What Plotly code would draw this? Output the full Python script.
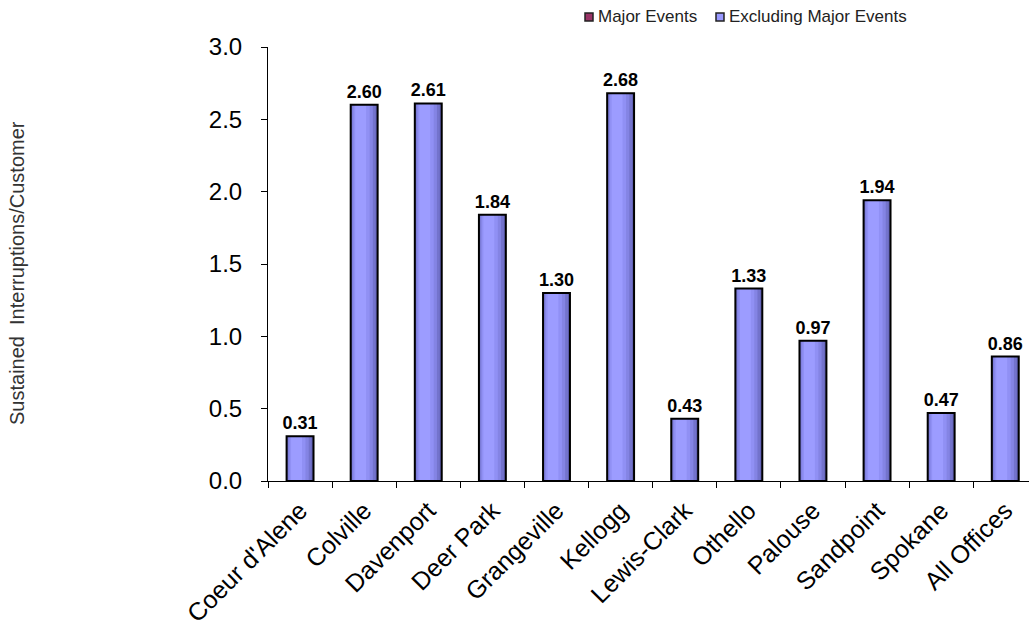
import plotly.graph_objects as go

offices = ["Coeur d'Alene", "Colville", "Davenport", "Deer Park", "Grangeville",
           "Kellogg", "Lewis-Clark", "Othello", "Palouse", "Sandpoint",
           "Spokane", "All Offices"]
major_events = [0, 0, 0, 0, 0, 0, 0, 0, 0, 0, 0, 0]
excluding_major = [0.31, 2.60, 2.61, 1.84, 1.30, 2.68, 0.43, 1.33, 0.97, 1.94, 0.47, 0.86]
y_ticks = [0.0, 0.5, 1.0, 1.5, 2.0, 2.5, 3.0]

FONT = "Arial, Liberation Sans, sans-serif"
BAR_W = 0.42
MAJOR_COLOR = "#993366"
EXCL_COLOR = "#9999FF"

# plot-area geometry (pixels) used for the hand-drawn legend
L, T, W, H = 268, 47, 761, 434


def px_x(px):
    return (px - L) / W


def px_y(py):
    return (T + H - py) / H


fig = go.Figure()

# Major events component (zero for every office)
fig.add_trace(go.Bar(
    x=offices, y=major_events, name="Major Events",
    marker=dict(color=MAJOR_COLOR, line=dict(width=0)),
    width=BAR_W, offset=-BAR_W / 2, showlegend=False,
))

# shaded "cylinder" fill: dark outer band, lighter inner bands shifted left
shades = [
    (BAR_W, -BAR_W / 2, "#5E5EAE"),
    (0.38, -0.20, "#7373CC"),
    (0.32, -0.185, "#8484E4"),
    (0.25, -0.165, "#9090F4"),
    (0.17, -0.14, "#9C9CFF"),
]
for w, off, col in shades:
    fig.add_trace(go.Bar(
        x=offices, y=excluding_major, name="Excluding Major Events",
        marker=dict(color=col, line=dict(width=0)),
        width=w, offset=off, showlegend=False, hoverinfo="skip",
    ))

# outline and value labels
fig.add_trace(go.Bar(
    x=offices, y=excluding_major, name="Excluding Major Events",
    marker=dict(color="rgba(0,0,0,0)", line=dict(color="black", width=2)),
    width=BAR_W, offset=-BAR_W / 2, showlegend=False,
    texttemplate="%{y:.2f}", textposition="outside", constraintext="none",
    textfont=dict(family=FONT, size=18, color="black", weight="bold"),
    cliponaxis=False,
))

# legend: small bordered squares with labels
legend_items = [("Major Events", MAJOR_COLOR, 585), ("Excluding Major Events", EXCL_COLOR, 716)]
shapes = []
annotations = []
for label, col, x0 in legend_items:
    shapes.append(dict(
        type="rect", xref="paper", yref="paper",
        x0=px_x(x0), x1=px_x(x0 + 8), y0=px_y(21), y1=px_y(13),
        fillcolor=col, line=dict(color="#222", width=1.5),
    ))
    annotations.append(dict(
        text=label, xref="paper", yref="paper",
        x=px_x(x0 + 11), y=px_y(17), xanchor="left", yanchor="middle",
        showarrow=False, font=dict(family=FONT, size=17, color="#222"),
    ))

annotations.append(dict(
    text="Sustained  Interruptions/Customer", textangle=-90,
    xref="paper", yref="paper", x=px_x(17), y=px_y(273),
    xanchor="center", yanchor="middle", showarrow=False,
    font=dict(family=FONT, size=20, color="#333"),
))

fig.update_layout(
    width=1029, height=628,
    margin=dict(l=L, r=1029 - L - W, t=T, b=628 - T - H),
    paper_bgcolor="white", plot_bgcolor="white",
    barmode="overlay",
    font=dict(family=FONT, color="black"),
    showlegend=False,
    xaxis=dict(
        range=[-0.5, 11.37], showline=True, linecolor="black", linewidth=1,
        ticks="outside", ticklen=6, tickcolor="black",
        tickangle=-45, tickfont=dict(family=FONT, size=25, color="black"),
        ticklabelstandoff=4,
        showgrid=False, tickson="boundaries",
    ),
    yaxis=dict(
        range=[0, 3], tickvals=y_ticks, ticktext=[f"{v:.1f}" for v in y_ticks],
        showline=True, linecolor="black", linewidth=1,
        ticks="outside", ticklen=6, tickcolor="black",
        tickfont=dict(family=FONT, size=24, color="black"),
        ticklabelstandoff=14,
        showgrid=False, zeroline=False,
    ),
    shapes=shapes,
    annotations=annotations,
)

fig.write_html("out.html")
